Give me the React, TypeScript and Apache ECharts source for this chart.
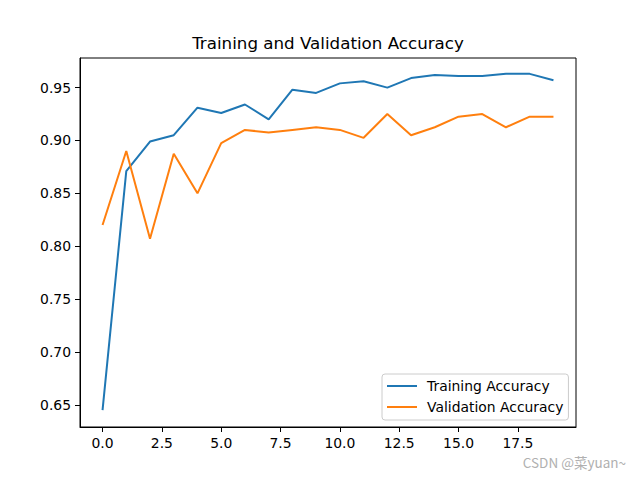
import React, { useEffect, useRef } from "react";
import * as echarts from "echarts";

const epochs = [0, 1, 2, 3, 4, 5, 6, 7, 8, 9, 10, 11, 12, 13, 14, 15, 16, 17, 18, 19];
const trainingAccuracy = [0.645, 0.871, 0.899, 0.905, 0.931, 0.926, 0.934, 0.920, 0.948, 0.945, 0.954, 0.956, 0.950, 0.959, 0.962, 0.961, 0.961, 0.963, 0.963, 0.957];
const validationAccuracy = [0.820, 0.890, 0.807, 0.8875, 0.850, 0.8975, 0.910, 0.9075, 0.910, 0.9125, 0.910, 0.9025, 0.925, 0.905, 0.9125, 0.9225, 0.925, 0.9125, 0.9225, 0.9225];
const xTicks = [0, 2.5, 5, 7.5, 10, 12.5, 15, 17.5];
const yTicks = [0.65, 0.7, 0.75, 0.8, 0.85, 0.9, 0.95];

const FONT = "DejaVu Sans";

export default function App() {
  const ref = useRef<HTMLDivElement>(null);
  useEffect(() => {
    if (!ref.current) return;
    const chart = echarts.init(ref.current, undefined, { renderer: "svg" });
    const train = epochs.map((e, i) => [e, trainingAccuracy[i]]);
    const val = epochs.map((e, i) => [e, validationAccuracy[i]]);
    chart.setOption({
      animation: false,
      backgroundColor: "#ffffff",
      title: {
        text: "Training and Validation Accuracy",
        left: 328,
        textAlign: "center",
        top: 33,
        padding: 0,
        textStyle: { fontFamily: FONT, fontSize: 16.7, fontWeight: "normal", color: "#000", lineHeight: 20 },
      },
      grid: {
        left: 80,
        right: 64,
        top: 58,
        bottom: 53,
        show: true,
        borderColor: "#000",
        borderWidth: 1,
        backgroundColor: "transparent",
      },
      xAxis: {
        type: "value",
        min: -0.95,
        max: 19.95,
        axisLine: { show: true, onZero: false, lineStyle: { color: "#000", width: 1 } },
        axisTick: { show: true, length: 5, inside: false, customValues: xTicks, lineStyle: { color: "#000", width: 1 } },
        axisLabel: {
          customValues: xTicks,
          margin: 9,
          fontFamily: FONT,
          fontSize: 13.9,
          color: "#000",
          formatter: (v: number) => v.toFixed(1),
        },
        splitLine: { show: false },
      },
      yAxis: {
        type: "value",
        min: 0.629,
        max: 0.978,
        axisLine: { show: true, onZero: false, lineStyle: { color: "#000", width: 1 } },
        axisTick: { show: true, length: 5, inside: false, customValues: yTicks, lineStyle: { color: "#000", width: 1 } },
        axisLabel: {
          customValues: yTicks,
          margin: 9,
          fontFamily: FONT,
          fontSize: 13.9,
          color: "#000",
          formatter: (v: number) => v.toFixed(2),
        },
        splitLine: { show: false },
      },
      legend: {
        orient: "vertical",
        left: 382,
        top: 374,
        padding: [4, 5, 5, 5],
        itemGap: 5,
        itemWidth: 30,
        itemHeight: 2,
        icon: "rect",
        backgroundColor: "rgba(255,255,255,0.8)",
        borderColor: "#cccccc",
        borderWidth: 1,
        borderRadius: 3,
        textStyle: { fontFamily: FONT, fontSize: 13.9, color: "#000", lineHeight: 16, padding: [0, 0, 0, 5] },
        data: ["Training Accuracy", "Validation Accuracy"],
      },
      series: [
        {
          name: "Training Accuracy",
          type: "line",
          data: train,
          showSymbol: false,
          symbol: "none",
          lineStyle: { color: "#1f77b4", width: 2 },
          itemStyle: { color: "#1f77b4" },
        },
        {
          name: "Validation Accuracy",
          type: "line",
          data: val,
          showSymbol: false,
          symbol: "none",
          lineStyle: { color: "#ff7f0e", width: 2 },
          itemStyle: { color: "#ff7f0e" },
        },
      ],
      graphic: [
        {
          type: "text",
          right: 14,
          top: 455,
          style: { text: "CSDN @菜yuan~", fill: "#b0b0b0", fontFamily: "Noto Sans CJK SC", fontSize: 13.5 },
        },
      ],
    });
    return () => chart.dispose();
  }, []);
  return <div ref={ref} style={{ position: "fixed", left: 0, top: 0, width: 640, height: 480 }} />;
}
